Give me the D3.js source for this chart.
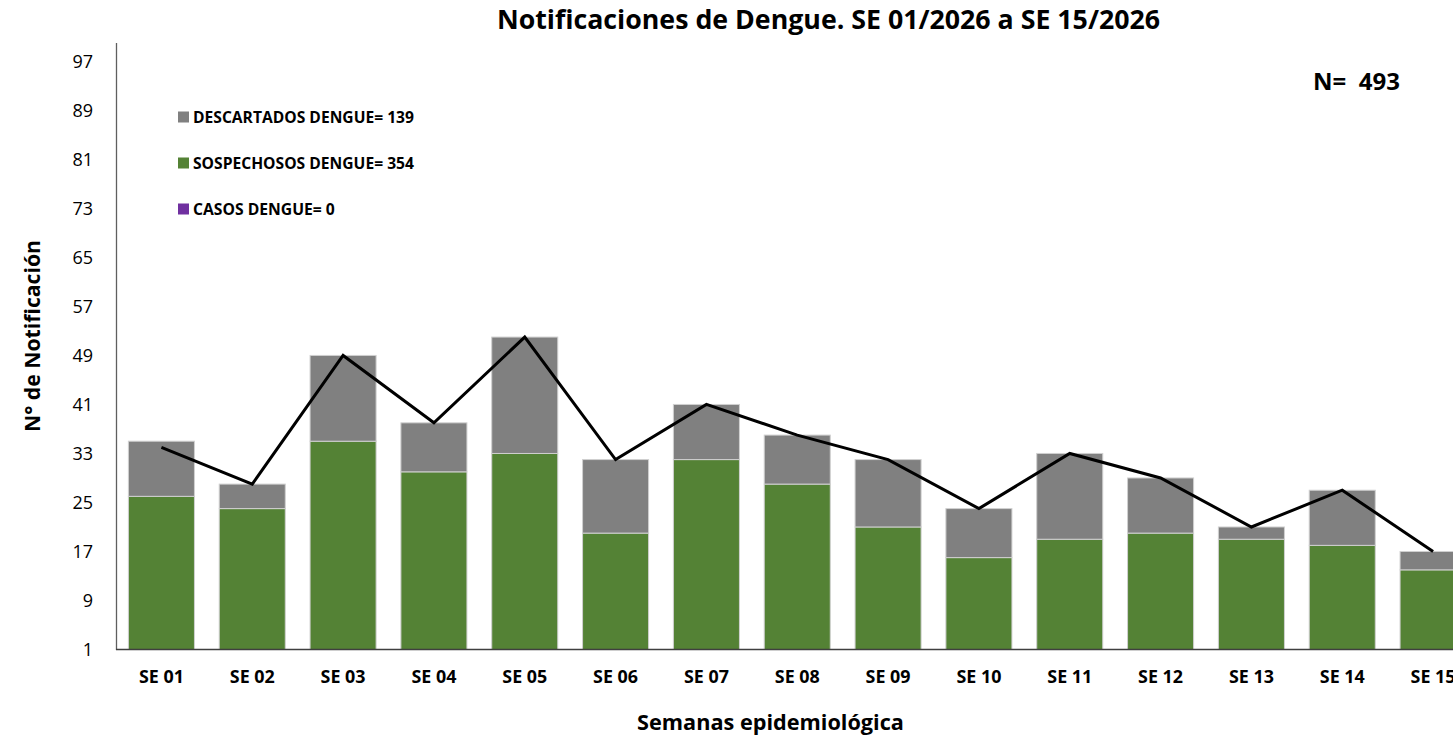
<!DOCTYPE html>
<html>
<head>
<meta charset="utf-8">
<script src="https://cdn.jsdelivr.net/npm/d3@7"></script>
<style>
html,body{margin:0;padding:0;background:#fff;}
svg{display:block;font-family:"Open Sans","Noto Sans",sans-serif;}
</style>
</head>
<body>
<svg id="chart" width="1453" height="736"></svg>
<script>
const categories = ["SE 01","SE 02","SE 03","SE 04","SE 05","SE 06","SE 07","SE 08","SE 09","SE 10","SE 11","SE 12","SE 13","SE 14","SE 15"];
const casos =        [0,0,0,0,0,0,0,0,0,0,0,0,0,0,0];
const sospechosos =  [26,24,35,30,33,20,32,28,21,16,19,20,19,18,14];
const descartados =  [9,4,14,8,19,12,9,8,11,8,14,9,2,9,3];
const totalLine =    [34,28,49,38,52,32,41,36,32,24,33,29,21,27,17];
const yTicks = [1,9,17,25,33,41,49,57,65,73,81,89,97];
const legendItems = [
  {label:"DESCARTADOS DENGUE= 139", color:"#808080"},
  {label:"SOSPECHOSOS DENGUE= 354", color:"#548235"},
  {label:"CASOS DENGUE= 0", color:"#7030A0"}
];
const titleText = "Notificaciones de Dengue. SE 01/2026 a SE 15/2026";
const nText = "N=  493";

const svg = d3.select("#chart");

function fit(sel, target){
  const node = sel.node();
  let fs = parseFloat(sel.attr("font-size"));
  for(let i=0;i<3;i++){
    const w = node.getComputedTextLength();
    if(w>0){ fs = fs*target/w; sel.attr("font-size", fs); }
  }
  return sel;
}

const x = d3.scaleBand().domain(categories).range([116, 1478.5]).paddingInner(0.273).paddingOuter(0.1365);
const y = d3.scaleLinear().domain([1,100]).range([649.5, 43]);

const rows = categories.map((c,i)=>({cat:c, casos:casos[i], sospechosos:sospechosos[i], descartados:descartados[i]}));
const keys = ["casos","sospechosos","descartados"];
const colors = {casos:"#7030A0", sospechosos:"#548235", descartados:"#808080"};
const stacked = d3.stack().keys(keys)(rows);

const gBars = svg.append("g");
stacked.forEach(s=>{
  gBars.selectAll(null).data(s).enter().append("rect")
    .attr("x", d=>x(d.data.cat))
    .attr("width", x.bandwidth())
    .attr("y", d=>y(Math.max(d[1],1)))
    .attr("height", d=>Math.max(0, y(Math.max(d[0],1))-y(Math.max(d[1],1))))
    .attr("fill", colors[s.key])
    .attr("stroke", d=> (d[1]-d[0])>0 ? "#d0d0d0" : "none")
    .attr("stroke-width", 1);
});

// axes
svg.append("line").attr("x1",116.5).attr("x2",116.5).attr("y1",43).attr("y2",650).attr("stroke","#5f5f5f").attr("stroke-width",1.3);
svg.append("line").attr("x1",116).attr("x2",1453).attr("y1",649.5).attr("y2",649.5).attr("stroke","#3f3f3f").attr("stroke-width",1.3);

// y tick labels
const yAxis = svg.append("g").attr("transform","translate(93,0)")
  .call(d3.axisLeft(y).tickValues(yTicks).tickSize(0).tickPadding(0).tickFormat(d3.format("d")));
yAxis.select(".domain").remove();
yAxis.selectAll("text").attr("font-size",18).attr("font-family","Open Sans, sans-serif").attr("fill","#000").attr("dy","0.36em");

// x tick labels
const xAxis = svg.append("g").attr("transform","translate(0,649.5)")
  .call(d3.axisBottom(x).tickSize(0).tickPadding(0));
xAxis.select(".domain").remove();
xAxis.selectAll("text").attr("y",27).attr("dy","0.35em").attr("font-size",15.5).attr("font-weight","bold").attr("font-family","Open Sans, sans-serif").attr("fill","#000");
xAxis.selectAll("text").each(function(){ fit(d3.select(this), 45); });

// line
const line = d3.line().x((d,i)=>x(categories[i])+x.bandwidth()/2).y(d=>y(d));
svg.append("path").datum(totalLine).attr("d",line).attr("fill","none").attr("stroke","#000").attr("stroke-width",3).attr("stroke-linejoin","miter");

// title
fit(svg.append("text").attr("x",828.5).attr("y",20).attr("dy","0.35em").attr("text-anchor","middle")
  .attr("font-size",24).attr("font-weight","bold").text(titleText), 663);

// N
fit(svg.append("text").attr("x",1313).attr("y",82).attr("dy","0.35em").style("white-space","pre")
  .attr("font-size",21).attr("font-weight","bold").text(nText), 87);

// x title
fit(svg.append("text").attr("x",770.5).attr("y",722).attr("dy","0.35em").attr("text-anchor","middle")
  .attr("font-size",21).attr("font-weight","bold").text("Semanas epidemiológica"), 267);

// y title
fit(svg.append("text").attr("transform","translate(33,336) rotate(-90)").attr("dy","0.35em").attr("text-anchor","middle")
  .attr("font-size",20).attr("font-weight","bold").text("N° de Notificación"), 192);

// legend
const leg = svg.append("g");
legendItems.forEach((it,i)=>{
  const cy = 117 + i*46;
  leg.append("rect").attr("x",178).attr("y",cy-5.5).attr("width",11).attr("height",11).attr("fill",it.color);
  const t = leg.append("text").attr("x",193).attr("y",cy).attr("dy","0.36em").attr("font-size",14).attr("font-weight","bold").text(it.label);
  const target = i===0 ? 221 : (i===1 ? 221 : 142);
  fit(t, target);
});
</script>
</body>
</html>
